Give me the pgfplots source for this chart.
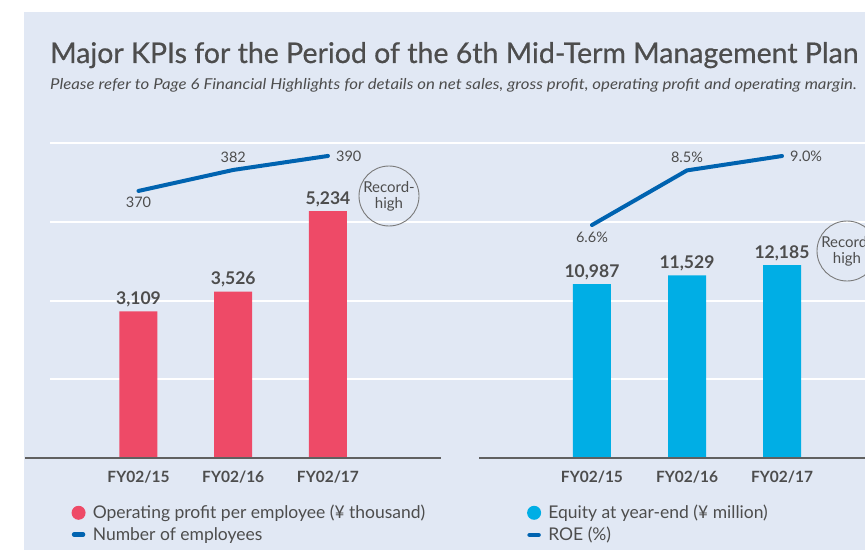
\documentclass[border=0pt]{standalone}
\usepackage{pgfplots}
\usepackage{pgfplotstable}
\pgfplotsset{compat=1.18}
\usepackage{fontspec}
\setmainfont{Lato}
\newfontfamily\titlefont[FakeBold=0.6]{Lato}
\newfontfamily\subfont[FakeStretch=1.12]{Lato}
\definecolor{bg}{HTML}{E1E8F4}
\definecolor{txt}{HTML}{4D4D4D}
\definecolor{barred}{HTML}{EE4A67}
\definecolor{barcyan}{HTML}{00AEE5}
\definecolor{lineblue}{HTML}{0063B0}
\definecolor{basec}{HTML}{606060}
\definecolor{circc}{HTML}{7A7A7A}

\pgfplotstableread{
x y
0 3109
1 3526
2 5234
}\opdata
\pgfplotstableread{
x y
0 370
1 382
2 390
}\empdata
\pgfplotstableread{
x y
0 10987
1 11529
2 12185
}\eqdata
\pgfplotstableread{
x y
0 6.6
1 8.5
2 9.0
}\roedata

\pgfplotsset{
  barbase/.style={
    scale only axis, height=315pt, ymin=0,
    axis x line=bottom, axis y line=none,
    axis line style={draw=basec, line width=2.6pt, -},
    xtick={0,1,2}, xticklabels={FY02/15,FY02/16,FY02/17},
    major tick length=0pt,
    xticklabel style={font=\fontsize{15.5}{18}\selectfont\bfseries, text=txt, yshift=-9pt},
    axis on top, clip=false,
    /pgf/number format/assume math mode=true,
    nodes near coords={\pgfmathprintnumber[fixed,precision=0,1000 sep={,}]{\pgfplotspointmeta}},
    every node near coord/.append style={font=\fontsize{17.5}{20}\selectfont\bfseries, text=txt, anchor=base, inner sep=0pt, yshift=7pt},
    legend style={draw=none, fill=none, font=\fontsize{17.5}{19}\selectfont, text=txt, inner sep=0pt, row sep=3pt, column sep=5pt, nodes={inner sep=2pt}},
    legend cell align=left,
  },
  linebase/.style={
    scale only axis, height=315pt, hide axis, clip=false,
    /pgf/number format/assume math mode=true,
    every node near coord/.append style={font=\fontsize{14.5}{16}\selectfont, text=txt, inner sep=0pt},
  },
  lineplot/.style={lineblue, line width=4pt, line cap=round, line join=round, no marks},
  lab/.style={draw=none, no marks, nodes near coords={#1}},
  dotimg/.style={legend image code/.code={\fill[#1] (7pt,0) circle (7pt);}},
  dashimg/.style={legend image code/.code={\draw[lineblue, line width=4.5pt, line cap=round] (2.5pt,0) -- (11.5pt,0); \path (0pt,0) (14pt,0);}},
}
\newcommand\empfmt{\pgfmathprintnumber[fixed,precision=0]{\pgfplotspointmeta}}
\newcommand\roefmt{\pgfmathprintnumber[fixed,fixed zerofill,precision=1]{\pgfplotspointmeta}\%}

\begin{document}
\begin{tikzpicture}[x=1pt,y=1pt]
\useasboundingbox (0,0) rectangle (865,550);
\clip (0,0) rectangle (865,550);
\fill[white] (0,0) rectangle (865,550);
\fill[bg] (24,0) rectangle (865,538);
\foreach \yy in {407,328,249,171} \draw[white, line width=1.5pt] (50,\yy) -- (866,\yy);

\node[anchor=base west, inner sep=0, text=txt, font=\titlefont\fontsize{28.5}{32}\selectfont] at (50,487) {Major KPIs for the Period of the 6th Mid-Term Management Plan};
\node[anchor=base west, inner sep=0, text=txt, font=\subfont\fontsize{15}{18}\selectfont\itshape] at (50,460) {Please refer to Page 6 Financial Highlights for details on net sales, gross profit, operating profit and operating margin.};

% ---------- left panel ----------
\begin{axis}[barbase, at={(25pt,92pt)}, anchor=south west,
  width=416pt, xmin=-1.198, xmax=3.193, ymax=6678,
  legend style={at={(0.111,-0.143)}, anchor=north west}]
  \addplot[ybar, bar width=38pt, fill=barred, draw=none, dotimg=barred] table[x=x,y=y]{\opdata};
  \addlegendentry{Operating profit per employee (¥ thousand)}
  \addlegendimage{dashimg}
  \addlegendentry{Number of employees}
\end{axis}
\begin{axis}[linebase, at={(25pt,92pt)}, anchor=south west,
  width=416pt, xmin=-1.198, xmax=3.193, ymin=217.4, ymax=397.4]
  \addplot[lineplot] table[x=x,y=y]{\empdata};
  \addplot[lab=\empfmt, skip coords between index={1}{3},
    every node near coord/.append style={anchor=north, yshift=-6pt}] table[x=x,y=y]{\empdata};
  \addplot[lab=\empfmt, skip coords between index={0}{1}, skip coords between index={2}{3},
    every node near coord/.append style={anchor=south, yshift=7pt}] table[x=x,y=y]{\empdata};
  \addplot[lab=\empfmt, skip coords between index={0}{2},
    every node near coord/.append style={anchor=west, xshift=8pt}] table[x=x,y=y]{\empdata};
\end{axis}

% ---------- right panel ----------
\begin{axis}[barbase, at={(479pt,92pt)}, anchor=south west,
  width=391pt, xmin=-1.189, xmax=2.926, ymax=19892,
  legend style={at={(0.122,-0.143)}, anchor=north west}]
  \addplot[ybar, bar width=38pt, fill=barcyan, draw=none, dotimg=barcyan] table[x=x,y=y]{\eqdata};
  \addlegendentry{Equity at year-end (¥ million)}
  \addlegendimage{dashimg}
  \addlegendentry{ROE (\%)}
\end{axis}
\begin{axis}[linebase, at={(479pt,92pt)}, anchor=south west,
  width=391pt, xmin=-1.189, xmax=2.926, ymin=-1.504, ymax=9.453]
  \addplot[lineplot] table[x=x,y=y]{\roedata};
  \addplot[lab=\roefmt, skip coords between index={1}{3},
    every node near coord/.append style={anchor=north, yshift=-7pt}] table[x=x,y=y]{\roedata};
  \addplot[lab=\roefmt, skip coords between index={0}{1}, skip coords between index={2}{3},
    every node near coord/.append style={anchor=south, yshift=8pt}] table[x=x,y=y]{\roedata};
  \addplot[lab=\roefmt, skip coords between index={0}{2},
    every node near coord/.append style={anchor=west, xshift=8pt}] table[x=x,y=y]{\roedata};
\end{axis}

% ---------- record-high badges ----------
\node[draw=circc, line width=0.9pt, circle, minimum size=60pt, inner sep=0pt, text=txt, align=center, font=\fontsize{15}{16}\selectfont] at (389,354) {Record-\\high};
\node[draw=circc, line width=0.9pt, circle, minimum size=60pt, inner sep=0pt, text=txt, align=center, font=\fontsize{15}{16}\selectfont] at (847,299) {Record-\\high};
\end{tikzpicture}
\end{document}
